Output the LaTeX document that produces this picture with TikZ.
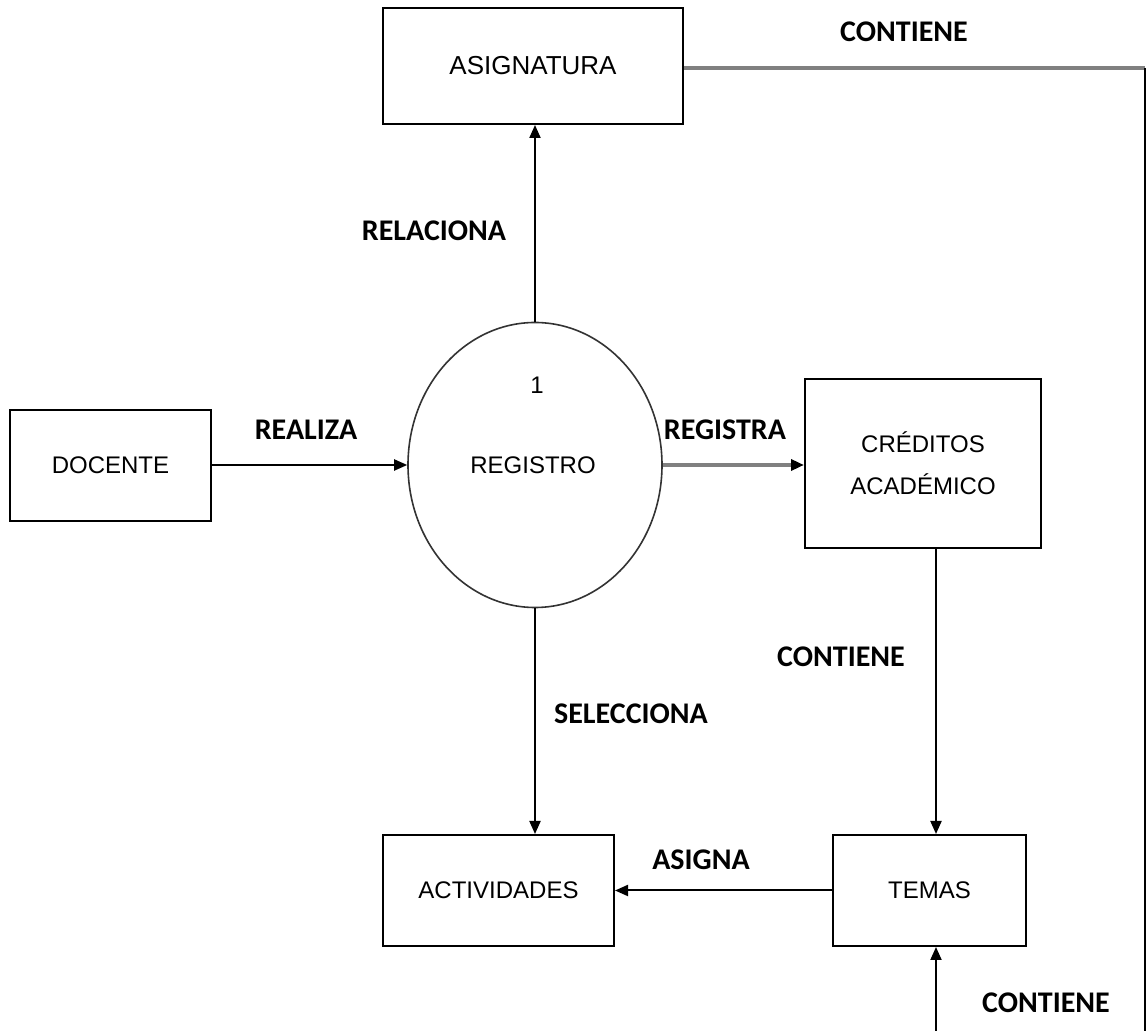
\documentclass[tikz,border=0pt]{standalone}
\usepackage{fontspec}
\setmainfont{Liberation Sans}
\newfontfamily\labelfont{Carlito}
\usetikzlibrary{shapes.geometric,arrows.meta}
\begin{document}
\begin{tikzpicture}[x=0.5pt,y=-0.5pt,
  entity/.style={draw=black,line width=1pt,inner sep=0pt,font=\fontsize{12}{16}\selectfont,align=center},
  process/.style={ellipse,draw=black!80,line width=0.8pt,inner sep=0pt,minimum width=127pt,minimum height=142.5pt},
  flow/.style={line width=1pt,-{Triangle[length=6.5pt,width=5.5pt]}},
  greyflow/.style={draw=black!50,line width=2pt,-{Triangle[length=6.5pt,width=5.5pt,fill=black,color=black]}},
  flowlabel/.style={font=\labelfont\bfseries\fontsize{15}{18}\selectfont,inner sep=0pt}]
  \useasboundingbox (0,0) rectangle (1148,1031);
  \fill[white] (0,0) rectangle (1148,1031);

  % external entities and stores
  \node[entity,minimum width=150pt,minimum height=58pt,font=\fontsize{13}{16}\selectfont] (asig) at (533,66) {ASIGNATURA};
  \node[entity,minimum width=100.5pt,minimum height=55.5pt] (doc) at (110.5,465.5) {DOCENTE};
  \node[entity,minimum width=118pt,minimum height=84.5pt] (cred) at (923,463.5) {CRÉDITOS\\[5pt]ACADÉMICO};
  \node[entity,minimum width=115.5pt,minimum height=55.5pt] (act) at (498.5,890.5) {ACTIVIDADES};
  \node[entity,minimum width=96.5pt,minimum height=55.5pt] (temas) at (929.5,890.5) {TEMAS};

  % the process bubble
  \node[process] (reg) at (535,465) {};
  \node[font=\fontsize{12}{14}\selectfont] (regnum) at (537,385) {1};
  \node[font=\fontsize{12}{14}\selectfont] (regname) at (533,465) {REGISTRO};

  % helper coordinates for the long connectors
  \coordinate (colx) at (936,0);
  \coordinate (corner) at (1145,68);
  \coordinate (rightend) at (1145,1031);
  \coordinate (bottomin) at (936,1031);

  % data flows
  \draw[flow] (reg.north) -- (reg.north |- asig.south);
  \draw[flow] (doc.east |- reg.west) -- (reg.west);
  \draw[greyflow] (reg.east) -- (cred.west |- reg.east);
  \draw[flow] (cred.south -| colx) -- (temas.north -| colx);
  \draw[flow] (reg.south) -- (act.north -| reg.south);
  \draw[flow] (temas.west) -- (act.east |- temas.west);
  \draw[draw=black!50,line width=2pt] (asig.east |- corner) -- (corner);
  \draw[line width=1pt] (corner) -- (rightend);
  \draw[flow] (bottomin) -- (temas.south -| colx);

  % flow labels
  \node[flowlabel] (lcont1) at (904,32) {CONTIENE};
  \node[flowlabel] (lrel) at (434,231) {RELACIONA};
  \node[flowlabel] (lrea) at (306,430) {REALIZA};
  \node[flowlabel] (lregi) at (725,430) {REGISTRA};
  \node[flowlabel] (lcont2) at (841,657) {CONTIENE};
  \node[flowlabel] (lsel) at (631,714) {SELECCIONA};
  \node[flowlabel] (lasig) at (701,860) {ASIGNA};
  \node[flowlabel] (lcont3) at (1046,1003) {CONTIENE};
\end{tikzpicture}
\end{document}
